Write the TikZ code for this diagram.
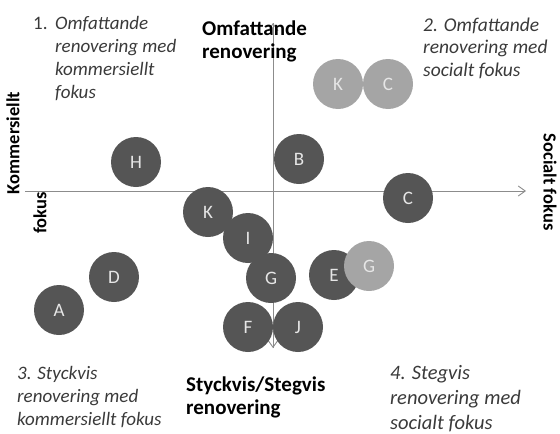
\documentclass[tikz,border=0pt]{standalone}
\usepackage{fontspec}
\setmainfont{Carlito}
\usetikzlibrary{arrows.meta}

\definecolor{darkdot}{HTML}{555555}
\definecolor{lightdot}{HTML}{A5A5A5}
\definecolor{dotlabel}{HTML}{E6E6E6}
\definecolor{quadtext}{HTML}{3A3A3A}
\definecolor{axisgray}{HTML}{8C8C8C}

% lines of a label, baseline on the first line
\newcommand{\lines}[1]{\begin{tabular}[t]{@{}l@{}}#1\end{tabular}}

\tikzset{
  proj/.style={circle, fill=darkdot, text=dotlabel, minimum size=50pt, inner sep=0pt,
    font=\fontsize{19}{19}\selectfont},
  projlight/.style={proj, fill=lightdot},
  axisline/.style={draw=axisgray, line width=0.9pt},
  tip/.style={arrows={-Straight Barb[length=7pt,width=10pt]}},
  quadlabel/.style={anchor=base west, text=quadtext, inner sep=0pt},
  axislabel/.style={anchor=base west, inner sep=0pt,
    font=\fontsize{21}{23}\bfseries\selectfont},
  sidelabel/.style={inner sep=0pt, font=\fontsize{18.5}{20}\bfseries\selectfont},
}

\begin{document}
\begin{tikzpicture}[x=1pt,y=-1pt]
  \useasboundingbox (0,0) rectangle (560,434);

  % axes
  \coordinate (west) at (25,191);
  \coordinate (east) at (526,191);
  \coordinate (north) at (273,23);
  \coordinate (south) at (273,348);
  \draw[axisline, tip] (west) -- (east);
  \draw[axisline, tip] (north) -- (south);
  \draw[axisline, tip] (south) -- (north);

  % axis labels
  \node[axislabel] (lblTop) at (202,35) {\lines{Omfattande\\renovering}};
  \node[axislabel] (lblBot) at (186,391) {\lines{Styckvis/Stegvis\\renovering}};
  \node[sidelabel, rotate=90] (lblLeft) at (13,143) {Kommersiellt};
  \node[sidelabel, rotate=90] (lblLeft2) at (40,213) {fokus};
  \node[sidelabel, rotate=-90] (lblRight) at (550,182) {Socialt fokus};

  % quadrants
  \node[quadlabel, font=\fontsize{19}{23}\selectfont] (q1num) at (33,29) {1.};
  \node[quadlabel, font=\fontsize{19}{23}\itshape\selectfont] (q1) at (55,29)
    {\lines{Omfattande\\renovering med\\kommersiellt\\fokus}};
  \node[quadlabel, font=\fontsize{19.5}{22.5}\itshape\selectfont] (q2) at (423,31)
    {\lines{2. Omfattande\\renovering med\\socialt fokus}};
  \node[quadlabel, font=\fontsize{19}{23.3}\itshape\selectfont] (q3) at (17,379)
    {\lines{3. Styckvis\\renovering med\\kommersiellt fokus}};
  \node[quadlabel, font=\fontsize{20.5}{25}\itshape\selectfont] (q4) at (390,379)
    {\lines{4. Stegvis\\renovering med\\socialt fokus}};

  % projects
  \node[projlight] (K2) at (338,84) {K};
  \node[projlight] (C2) at (388,84) {C};
  \node[proj] (H) at (136,162) {H};
  \node[proj] (B) at (299,159) {B};
  \node[proj] (C) at (408,198) {C};
  \node[proj] (K) at (208,212) {K};
  \node[proj] (I) at (248,238) {I};
  \node[proj] (G) at (271,278) {G};
  \node[proj] (E) at (334,275) {E};
  \node[projlight] (G2) at (369,266) {G};
  \node[proj] (D) at (114,277) {D};
  \node[proj] (A) at (59,310) {A};
  \node[proj] (F) at (248,327) {F};
  \node[proj] (J) at (298,327) {J};
\end{tikzpicture}
\end{document}
